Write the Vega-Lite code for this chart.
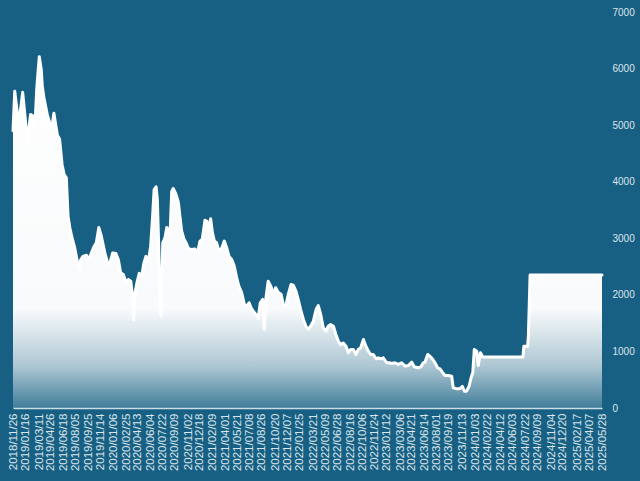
{
  "$schema": "https://vega.github.io/schema/vega-lite/v6.json",
  "width": 589,
  "height": 396,
  "autosize": {"type": "none"},
  "padding": {"left": 13, "top": 12, "right": 38, "bottom": 73},
  "background": "#176083",
  "config": {"view": {"stroke": null}, "axis": {"labelFont": "Liberation Sans"}},
  "data": {
    "values": [
      {"d": "2018/11/26", "v": 4900}, {"d": "2018/12/03", "v": 5600}, {"d": "2018/12/19", "v": 5010},
      {"d": "2019/01/04", "v": 5580}, {"d": "2019/01/23", "v": 4720}, {"d": "2019/02/05", "v": 5190},
      {"d": "2019/02/15", "v": 5160}, {"d": "2019/02/22", "v": 4960}, {"d": "2019/03/02", "v": 5660},
      {"d": "2019/03/12", "v": 6210}, {"d": "2019/03/20", "v": 5980}, {"d": "2019/03/24", "v": 5690},
      {"d": "2019/03/31", "v": 5480}, {"d": "2019/04/13", "v": 5190}, {"d": "2019/04/23", "v": 5040},
      {"d": "2019/05/02", "v": 4980}, {"d": "2019/05/10", "v": 5210}, {"d": "2019/05/17", "v": 5010},
      {"d": "2019/05/24", "v": 4820}, {"d": "2019/06/02", "v": 4750}, {"d": "2019/06/12", "v": 4300},
      {"d": "2019/06/20", "v": 4130}, {"d": "2019/06/29", "v": 4070}, {"d": "2019/07/06", "v": 3390},
      {"d": "2019/07/13", "v": 3190}, {"d": "2019/07/22", "v": 3010}, {"d": "2019/08/02", "v": 2830},
      {"d": "2019/08/11", "v": 2620}, {"d": "2019/08/18", "v": 2450}, {"d": "2019/08/26", "v": 2620},
      {"d": "2019/09/04", "v": 2680}, {"d": "2019/09/18", "v": 2700}, {"d": "2019/09/27", "v": 2620},
      {"d": "2019/10/08", "v": 2740}, {"d": "2019/10/19", "v": 2860}, {"d": "2019/10/28", "v": 2920},
      {"d": "2019/11/07", "v": 3190}, {"d": "2019/11/17", "v": 3040}, {"d": "2019/12/01", "v": 2750},
      {"d": "2019/12/14", "v": 2540}, {"d": "2019/12/22", "v": 2570}, {"d": "2020/01/02", "v": 2740},
      {"d": "2020/01/15", "v": 2730}, {"d": "2020/01/25", "v": 2620}, {"d": "2020/02/03", "v": 2390},
      {"d": "2020/02/14", "v": 2360}, {"d": "2020/02/25", "v": 2210}, {"d": "2020/03/05", "v": 2270},
      {"d": "2020/03/15", "v": 2240}, {"d": "2020/03/23", "v": 1920}, {"d": "2020/03/26", "v": 1560},
      {"d": "2020/04/01", "v": 2040}, {"d": "2020/04/10", "v": 2240}, {"d": "2020/04/18", "v": 2380},
      {"d": "2020/04/28", "v": 2330}, {"d": "2020/05/07", "v": 2570}, {"d": "2020/05/15", "v": 2680},
      {"d": "2020/05/25", "v": 2600}, {"d": "2020/06/03", "v": 2860}, {"d": "2020/06/11", "v": 3390},
      {"d": "2020/06/17", "v": 3860}, {"d": "2020/06/25", "v": 3910}, {"d": "2020/06/30", "v": 3690},
      {"d": "2020/07/06", "v": 2800}, {"d": "2020/07/11", "v": 1740}, {"d": "2020/07/15", "v": 1620},
      {"d": "2020/07/22", "v": 2920}, {"d": "2020/07/31", "v": 3010}, {"d": "2020/08/07", "v": 3190},
      {"d": "2020/08/13", "v": 3160}, {"d": "2020/08/20", "v": 3040}, {"d": "2020/08/27", "v": 3830},
      {"d": "2020/09/02", "v": 3880}, {"d": "2020/09/13", "v": 3780}, {"d": "2020/09/23", "v": 3630},
      {"d": "2020/09/29", "v": 3390}, {"d": "2020/10/06", "v": 3130}, {"d": "2020/10/16", "v": 2980},
      {"d": "2020/10/24", "v": 2920}, {"d": "2020/11/02", "v": 2820}, {"d": "2020/11/16", "v": 2800},
      {"d": "2020/11/29", "v": 2810}, {"d": "2020/12/09", "v": 2745}, {"d": "2020/12/19", "v": 2950},
      {"d": "2020/12/28", "v": 2980}, {"d": "2021/01/08", "v": 3320}, {"d": "2021/01/16", "v": 3300},
      {"d": "2021/01/22", "v": 3130}, {"d": "2021/01/31", "v": 3345}, {"d": "2021/02/07", "v": 3100},
      {"d": "2021/02/15", "v": 2950}, {"d": "2021/02/24", "v": 2920}, {"d": "2021/03/06", "v": 2770},
      {"d": "2021/03/17", "v": 2830}, {"d": "2021/03/27", "v": 2950}, {"d": "2021/04/06", "v": 2830},
      {"d": "2021/04/15", "v": 2680}, {"d": "2021/04/26", "v": 2625}, {"d": "2021/05/06", "v": 2510},
      {"d": "2021/05/16", "v": 2300}, {"d": "2021/05/25", "v": 2150}, {"d": "2021/06/05", "v": 2040},
      {"d": "2021/06/16", "v": 1830}, {"d": "2021/06/25", "v": 1800}, {"d": "2021/07/05", "v": 1860},
      {"d": "2021/07/13", "v": 1770}, {"d": "2021/07/22", "v": 1710}, {"d": "2021/08/02", "v": 1650},
      {"d": "2021/08/11", "v": 1590}, {"d": "2021/08/19", "v": 1860}, {"d": "2021/08/29", "v": 1920},
      {"d": "2021/09/04", "v": 1390}, {"d": "2021/09/11", "v": 1950}, {"d": "2021/09/20", "v": 2240},
      {"d": "2021/10/01", "v": 2150}, {"d": "2021/10/11", "v": 2010}, {"d": "2021/10/20", "v": 2125},
      {"d": "2021/10/31", "v": 2040}, {"d": "2021/11/11", "v": 2010}, {"d": "2021/11/20", "v": 1830},
      {"d": "2021/11/30", "v": 1800}, {"d": "2021/12/10", "v": 2010}, {"d": "2021/12/21", "v": 2184},
      {"d": "2021/12/30", "v": 2170}, {"d": "2022/01/10", "v": 2066}, {"d": "2022/01/19", "v": 1920},
      {"d": "2022/01/29", "v": 1740}, {"d": "2022/02/09", "v": 1565}, {"d": "2022/02/19", "v": 1446},
      {"d": "2022/03/01", "v": 1390}, {"d": "2022/03/10", "v": 1446}, {"d": "2022/03/21", "v": 1535},
      {"d": "2022/04/01", "v": 1740}, {"d": "2022/04/10", "v": 1810}, {"d": "2022/04/20", "v": 1650},
      {"d": "2022/04/30", "v": 1420}, {"d": "2022/05/11", "v": 1360}, {"d": "2022/05/20", "v": 1446},
      {"d": "2022/05/30", "v": 1476}, {"d": "2022/06/10", "v": 1446}, {"d": "2022/06/20", "v": 1300},
      {"d": "2022/06/30", "v": 1180}, {"d": "2022/07/09", "v": 1120}, {"d": "2022/07/20", "v": 1150},
      {"d": "2022/07/31", "v": 1090}, {"d": "2022/08/09", "v": 976}, {"d": "2022/08/19", "v": 1034},
      {"d": "2022/08/29", "v": 1034}, {"d": "2022/09/09", "v": 946}, {"d": "2022/09/18", "v": 1034},
      {"d": "2022/09/28", "v": 1064}, {"d": "2022/10/09", "v": 1210}, {"d": "2022/10/19", "v": 1093},
      {"d": "2022/10/29", "v": 1004}, {"d": "2022/11/07", "v": 946}, {"d": "2022/11/18", "v": 946},
      {"d": "2022/11/29", "v": 870}, {"d": "2022/12/08", "v": 888}, {"d": "2022/12/18", "v": 870},
      {"d": "2022/12/28", "v": 888}, {"d": "2023/01/11", "v": 800}, {"d": "2023/01/21", "v": 800},
      {"d": "2023/01/31", "v": 787}, {"d": "2023/02/13", "v": 800}, {"d": "2023/02/27", "v": 770},
      {"d": "2023/03/12", "v": 800}, {"d": "2023/03/26", "v": 740}, {"d": "2023/04/08", "v": 750},
      {"d": "2023/04/22", "v": 810}, {"d": "2023/05/02", "v": 728}, {"d": "2023/05/16", "v": 711},
      {"d": "2023/05/29", "v": 728}, {"d": "2023/06/07", "v": 799}, {"d": "2023/06/14", "v": 810},
      {"d": "2023/06/25", "v": 946}, {"d": "2023/07/04", "v": 916}, {"d": "2023/07/14", "v": 870},
      {"d": "2023/07/25", "v": 799}, {"d": "2023/08/04", "v": 711}, {"d": "2023/08/14", "v": 693},
      {"d": "2023/08/23", "v": 633}, {"d": "2023/09/03", "v": 575}, {"d": "2023/09/16", "v": 575},
      {"d": "2023/09/30", "v": 562}, {"d": "2023/10/06", "v": 357}, {"d": "2023/10/20", "v": 339},
      {"d": "2023/11/02", "v": 339}, {"d": "2023/11/12", "v": 385}, {"d": "2023/11/20", "v": 297},
      {"d": "2023/11/29", "v": 297}, {"d": "2023/12/09", "v": 385}, {"d": "2023/12/17", "v": 534},
      {"d": "2023/12/24", "v": 622}, {"d": "2023/12/30", "v": 1034}, {"d": "2024/01/09", "v": 1004},
      {"d": "2024/01/15", "v": 750}, {"d": "2024/01/24", "v": 976}, {"d": "2024/02/01", "v": 910},
      {"d": "2024/02/07", "v": 900}, {"d": "2024/07/13", "v": 900}, {"d": "2024/07/17", "v": 1090},
      {"d": "2024/08/01", "v": 1090}, {"d": "2024/08/04", "v": 1260}, {"d": "2024/08/11", "v": 2350},
      {"d": "2025/05/28", "v": 2350}
    ]
  },
  "encoding": {
    "x": {
      "field": "d",
      "type": "temporal",
      "scale": {
        "domain": [{"year": 2018, "month": 11, "date": 26}, {"year": 2025, "month": 5, "date": 28}],
        "nice": false
      },
      "axis": {
        "values": [
          {"year": 2018, "month": 11, "date": 26}, {"year": 2019, "month": 1, "date": 16},
          {"year": 2019, "month": 3, "date": 11}, {"year": 2019, "month": 4, "date": 26},
          {"year": 2019, "month": 6, "date": 18}, {"year": 2019, "month": 8, "date": 5},
          {"year": 2019, "month": 9, "date": 25}, {"year": 2019, "month": 11, "date": 14},
          {"year": 2020, "month": 1, "date": 6}, {"year": 2020, "month": 2, "date": 25},
          {"year": 2020, "month": 4, "date": 13}, {"year": 2020, "month": 6, "date": 4},
          {"year": 2020, "month": 7, "date": 22}, {"year": 2020, "month": 9, "date": 9},
          {"year": 2020, "month": 11, "date": 2}, {"year": 2020, "month": 12, "date": 18},
          {"year": 2021, "month": 2, "date": 9}, {"year": 2021, "month": 4, "date": 1},
          {"year": 2021, "month": 5, "date": 21}, {"year": 2021, "month": 7, "date": 8},
          {"year": 2021, "month": 8, "date": 26}, {"year": 2021, "month": 10, "date": 20},
          {"year": 2021, "month": 12, "date": 7}, {"year": 2022, "month": 1, "date": 25},
          {"year": 2022, "month": 3, "date": 21}, {"year": 2022, "month": 5, "date": 9},
          {"year": 2022, "month": 6, "date": 28}, {"year": 2022, "month": 8, "date": 16},
          {"year": 2022, "month": 10, "date": 6}, {"year": 2022, "month": 11, "date": 24},
          {"year": 2023, "month": 1, "date": 12}, {"year": 2023, "month": 3, "date": 6},
          {"year": 2023, "month": 4, "date": 21}, {"year": 2023, "month": 6, "date": 14},
          {"year": 2023, "month": 8, "date": 1}, {"year": 2023, "month": 9, "date": 19},
          {"year": 2023, "month": 11, "date": 13}, {"year": 2024, "month": 1, "date": 3},
          {"year": 2024, "month": 2, "date": 22}, {"year": 2024, "month": 4, "date": 12},
          {"year": 2024, "month": 6, "date": 3}, {"year": 2024, "month": 7, "date": 22},
          {"year": 2024, "month": 9, "date": 9}, {"year": 2024, "month": 11, "date": 4},
          {"year": 2024, "month": 12, "date": 20}, {"year": 2025, "month": 2, "date": 17},
          {"year": 2025, "month": 4, "date": 7}, {"year": 2025, "month": 5, "date": 28}
        ],
        "format": "%Y/%m/%d",
        "labelAngle": -90,
        "labelFontSize": 11.5,
        "labelColor": "#dbe5eb",
        "domainColor": "#cddde6",
        "domainWidth": 1.5,
        "ticks": false,
        "grid": false,
        "labelPadding": 5,
        "labelOverlap": false,
        "labelFlush": false,
        "labelBound": false,
        "zindex": 1,
        "title": null
      }
    },
    "y": {
      "field": "v",
      "type": "quantitative",
      "scale": {"domain": [0, 7000], "nice": false},
      "axis": {
        "orient": "right",
        "values": [0, 1000, 2000, 3000, 4000, 5000, 6000, 7000],
        "format": "d",
        "domain": false,
        "ticks": false,
        "grid": false,
        "labelPadding": 10,
        "labelColor": "#dbe5eb",
        "labelFontSize": 10,
        "title": null
      }
    }
  },
  "layer": [
    {
      "mark": {
        "type": "area",
        "color": {
          "gradient": "linear",
          "x1": 0, "y1": 0, "x2": 0, "y2": 1,
          "stops": [
            {"offset": 0, "color": "rgba(255,255,255,1)"},
            {"offset": 0.72, "color": "rgba(255,255,255,0.97)"},
            {"offset": 0.88, "color": "rgba(255,255,255,0.65)"},
            {"offset": 1, "color": "rgba(255,255,255,0.18)"}
          ]
        }
      }
    },
    {
      "mark": {"type": "line", "color": "white", "strokeWidth": 3, "strokeJoin": "round", "strokeCap": "round"}
    }
  ]
}
